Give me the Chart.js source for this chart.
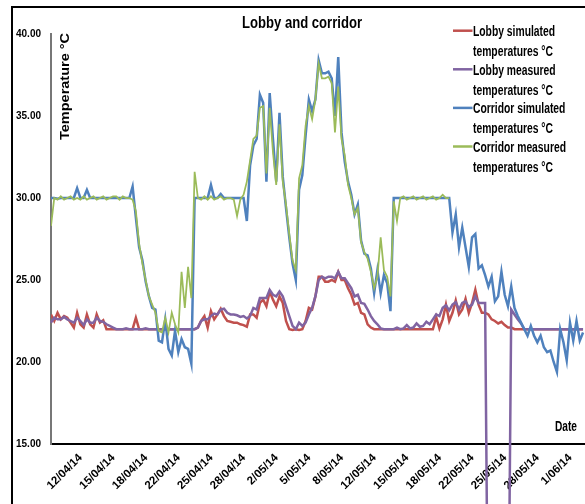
<!DOCTYPE html>
<html>
<head>
<meta charset="utf-8">
<script src="https://cdn.jsdelivr.net/npm/chart.js@4.4.1/dist/chart.umd.min.js"></script>
<style>
  html, body { margin: 0; padding: 0; background: #fff; }
  #wrap { position: relative; width: 585px; height: 504px; overflow: hidden; background: #fff; }
  #frame { position: absolute; left: 11px; top: 6px; width: 700px; height: 700px;
           border: 2px solid #000; box-sizing: border-box; }
  #chart { position: absolute; left: 0; top: 0; }
</style>
</head>
<body>
<div id="wrap">
  <div id="frame"></div>
  <canvas id="chart" width="585" height="504"></canvas>
</div>
<script>
// Temperatures logged three times a day (every 8 hours), from 8/04/14 to 2/06/14.
const chartTitle = 'Lobby and corridor';
const yAxisTitle = 'Temperature °C';
const xAxisTitle = 'Date';

// Date labels shown on the horizontal axis: one every 10 samples, starting at sample 10.
const tickDates = ['12/04/14', '15/04/14', '18/04/14', '22/04/14', '25/04/14', '28/04/14',
  '2/05/14', '5/05/14', '8/05/14', '12/05/14', '15/05/14', '18/05/14', '22/05/14',
  '25/05/14', '28/05/14', '1/06/14'];
const firstLabelledSample = 10;
const samplesPerLabel = 10;

const yTickValues = [15, 20, 25, 30, 35, 40];

const lobbySimulated = [
  22.9, 22.5, 23.0, 22.6, 22.8, 22.7, 22.4, 22.1, 23.0, 22.3,
  22.1, 22.9, 22.3, 22.1, 22.9, 22.4, 22.55, 22.0, 22.0, 22.0,
  22.0, 22.0, 22.0, 22.0, 22.0, 22.0, 22.7, 22.0, 22.0, 22.0,
  22.0, 22.0, 22.0, 22.0, 22.0, 22.0, 22.0, 22.0, 22.0, 22.0,
  22.0, 22.0, 22.0, 22.0, 22.0, 22.1, 22.5, 22.8, 22.1, 23.1,
  22.6, 22.9, 23.25, 22.8, 22.5, 22.45, 22.4, 22.4, 22.3, 22.25,
  22.15, 22.9, 22.9, 22.7, 23.6, 23.8, 23.4, 24.3, 23.8, 23.4,
  24.0, 23.6, 22.5, 22.0, 21.95, 22.0, 21.95, 22.0, 22.5, 23.3,
  23.2, 24.0, 25.2, 25.2, 24.9, 24.9, 25.0, 24.9, 25.5, 25.0,
  25.0, 24.5, 24.1, 23.5, 23.6, 23.0, 22.9, 22.3, 22.1, 22.0,
  22.0, 22.0, 22.0, 22.0, 22.0, 22.0, 22.0, 22.0, 22.0, 22.0,
  22.0, 22.0, 22.0, 22.0, 22.0, 22.0, 22.0, 22.0, 22.75, 22.05,
  22.6, 23.5, 22.5, 23.0, 23.75, 22.9, 23.2, 23.85, 23.0, 23.6,
  24.4, 23.5, 23.0, 23.0, 22.9, 22.6, 22.5, 22.35, 22.45, 22.25,
  22.1, 22.1, 22.0, 22.0, 22.0, 22.0, 22.0, 22.0, 22.0, 22.0,
  22.0, 22.0, 22.0, 22.0, 22.0, 22.0, 22.0, 22.0, 22.0, 22.0,
  22.0, 22.0, 22.0, 22.0
];

// Logger readings of 0 are drop-outs of the lobby logger.
const lobbyMeasured = [
  22.4, 22.7, 22.6, 22.6, 22.75, 22.6, 22.5, 22.4, 22.7, 22.5,
  22.25, 22.6, 22.4, 22.4, 22.7, 22.5, 22.45, 22.3, 22.2, 22.1,
  22.0, 22.0, 22.0, 22.05, 22.0, 22.0, 22.0, 22.0, 22.0, 22.05,
  22.0, 22.0, 22.0, 22.0, 22.0, 22.0, 22.0, 22.0, 22.0, 22.0,
  22.0, 22.0, 22.0, 22.0, 22.0, 22.1, 22.5, 22.6, 22.6, 22.8,
  22.95, 22.9, 23.2, 23.25, 23.0, 22.9, 22.9, 22.85, 22.75, 22.8,
  22.65, 22.8, 23.3, 23.2, 23.9, 23.9, 23.9, 24.4, 24.1, 24.0,
  24.3, 24.0, 23.4, 22.8, 22.2, 22.0, 22.4, 22.2, 22.4, 22.9,
  23.3, 24.0, 25.0, 25.2, 25.1, 25.2, 25.2, 25.1, 25.5, 25.1,
  25.1, 24.8, 24.5, 24.0, 24.1, 23.6, 23.55, 23.2, 22.8, 22.5,
  22.3, 22.05, 22.0, 22.0, 22.0, 22.0, 22.1, 22.0, 22.05, 22.25,
  22.05, 22.1, 22.35, 22.15, 22.2, 22.45, 22.3, 22.6, 22.9, 22.8,
  23.3, 23.45, 23.15, 23.5, 23.65, 23.2, 23.6, 23.7, 23.35, 23.5,
  24.0, 23.6, 23.6, 23.6, 0, 0, 0, 0, 0, 0,
  0, 23.2, 22.9, 22.6, 22.35, 22.0, 22.0, 22.0, 22.0, 22.0,
  22.0, 22.0, 22.0, 22.0, 22.0, 22.0, 22.0, 22.0, 22.0, 22.0,
  22.0, 22.0, 22.0, 22.0
];

const corridorSimulated = [
  30.0, 30.0, 29.95, 30.0, 30.0, 30.0, 30.0, 30.0, 30.6, 30.0,
  30.0, 30.5, 30.0, 30.0, 30.0, 30.0, 30.0, 30.0, 30.0, 30.0,
  30.0, 30.0, 30.0, 30.0, 30.0, 30.7, 28.8, 27.0, 26.2, 24.9,
  24.0, 23.3, 23.2, 21.3, 21.2, 22.6, 20.8, 20.4, 21.9, 20.6,
  21.4, 20.9, 20.8, 19.9, 30.0, 30.0, 30.0, 30.0, 30.0, 30.8,
  30.0, 30.0, 30.25, 30.0, 30.0, 30.0, 30.0, 30.0, 30.0, 30.0,
  28.6, 32.0, 33.2, 33.6, 36.3, 35.8, 31.0, 36.4, 33.6, 31.0,
  35.2, 31.3, 29.4, 27.6, 26.0, 25.0, 30.5, 31.4, 33.8, 36.0,
  35.3, 36.0, 38.4, 37.6, 37.6, 37.7, 37.3, 35.0, 38.6, 34.0,
  32.2, 31.0, 30.2, 29.0, 29.6, 27.4, 26.6, 26.5, 25.7, 24.2,
  25.6, 24.2, 25.3, 24.8, 23.1, 30.0, 30.0, 30.0, 30.0, 30.0,
  30.0, 30.0, 30.0, 30.0, 30.0, 30.0, 30.0, 30.0, 30.0, 30.0,
  30.0, 30.0, 30.0, 27.9, 29.0, 27.0, 28.2, 27.0, 25.8, 27.6,
  27.8, 25.7, 25.9, 25.3, 24.6, 25.2, 23.7, 24.0, 25.5, 24.1,
  23.4, 24.6, 23.3, 22.8, 22.4, 22.0, 21.6, 22.2, 21.6, 21.2,
  21.6, 20.9, 20.6, 20.7, 20.0, 19.4, 22.0, 21.2, 20.1, 22.4,
  21.3, 22.5, 21.3, 21.8
];

// Corridor logger stops after 22/05/14.
const corridorMeasured = [
  28.3, 30.0, 29.9, 30.1, 29.9, 30.0, 30.1, 29.9, 30.0, 29.9,
  30.1, 29.9, 30.0, 30.1, 29.9, 30.0, 30.1, 29.9, 30.0, 30.1,
  30.1, 29.9, 30.1, 30.0, 30.0, 29.9, 29.2, 27.2, 26.0, 25.0,
  24.0, 23.5, 23.0, 21.9, 21.8, 22.7, 21.8, 23.0, 22.3, 21.8,
  25.5, 23.3, 25.8, 23.9, 31.6, 30.0, 29.9, 30.1, 29.9, 30.1,
  29.9, 30.0, 30.1, 29.9, 30.0, 30.0, 29.9, 28.9, 29.9, 30.2,
  31.0, 32.3, 33.6, 33.8, 35.5, 35.6, 31.5, 35.5, 32.8, 30.8,
  34.5, 31.0, 29.6, 27.8, 26.2, 25.6, 31.2, 32.0, 34.4, 35.6,
  34.8, 36.0, 38.2, 37.3, 37.3, 37.4, 37.0, 34.0, 36.8, 33.6,
  32.6, 30.8, 30.0, 29.0, 29.4, 27.3, 26.7, 26.3, 25.5, 24.5,
  25.2, 27.6, 25.6, 25.2, 24.0, 29.8, 28.6, 30.0, 30.1, 29.9,
  30.0, 30.1, 29.9, 30.0, 30.1, 29.9, 30.0, 30.1, 29.9, 30.0,
  30.2, 30.0, 30.0, null, null, null, null, null, null, null,
  null, null, null, null, null, null, null, null, null, null,
  null, null, null, null, null, null, null, null, null, null,
  null, null, null, null, null, null, null, null, null, null,
  null, null, null, null
];

const sampleIndex = corridorSimulated.map((_, i) => i);

const FAMILY = "'Liberation Sans Narrow', 'Liberation Sans', Arial, sans-serif";

function drawFitted(ctx, text, x, y, width, font, align) {
  ctx.font = font;
  const sx = width / ctx.measureText(text).width;
  ctx.save();
  ctx.translate(x, y);
  ctx.scale(sx, 1);
  ctx.textAlign = align;
  ctx.textBaseline = 'alphabetic';
  ctx.fillText(text, 0, 0);
  ctx.restore();
}

// Title, axis titles and the two-line legend at the top right.
const chartText = {
  id: 'chartText',
  afterDraw(chart) {
    const ctx = chart.ctx;
    ctx.save();
    ctx.fillStyle = '#000';
    drawFitted(ctx, chartTitle, 302, 28, 120, 'bold 16px ' + FAMILY, 'center');

    ctx.save();
    ctx.translate(69, 86.5);
    ctx.rotate(-Math.PI / 2);
    drawFitted(ctx, yAxisTitle, 0, 0, 107, 'bold 12px ' + FAMILY, 'center');
    ctx.restore();

    drawFitted(ctx, xAxisTitle, 555, 430.5, 22, 'bold 14px ' + FAMILY, 'left');

    // legend
    const font = 'bold 14px ' + FAMILY;
    ctx.font = font;
    const entries = chart.data.datasets.map(ds => {
      const words = ds.label.split(' ');
      const lines = [];
      for (let i = 0; i < words.length; i += 2) lines.push(words.slice(i, i + 2).join(' '));
      return { lines, color: ds.borderColor };
    });
    let widest = 0;
    entries.forEach(e => e.lines.forEach(l => { widest = Math.max(widest, ctx.measureText(l).width); }));
    const sx = 93 / widest;
    entries.forEach((e, k) => {
      const base = 36 + k * 38.6;
      ctx.strokeStyle = e.color;
      ctx.lineWidth = 2.5;
      ctx.beginPath();
      ctx.moveTo(453, base - 5.3);
      ctx.lineTo(472.5, base - 5.3);
      ctx.stroke();
      e.lines.forEach((line, j) => {
        ctx.save();
        ctx.translate(473, base + j * 20);
        ctx.scale(sx, 1);
        ctx.font = font;
        ctx.textAlign = 'left';
        ctx.fillStyle = '#000';
        ctx.fillText(line, 0, 0);
        ctx.restore();
      });
    });
    ctx.restore();
  }
};

const lineStyle = { pointRadius: 0, pointHoverRadius: 0, tension: 0, fill: false };

new Chart(document.getElementById('chart'), {
  type: 'line',
  data: {
    labels: sampleIndex,
    datasets: [
      { ...lineStyle, label: 'Lobby simulated temperatures °C', data: lobbySimulated,
        borderColor: '#C0504D', borderWidth: 2.5, order: 4 },
      { ...lineStyle, label: 'Lobby measured temperatures °C', data: lobbyMeasured,
        borderColor: '#8064A2', borderWidth: 2.5, order: 3, clip: false },
      { ...lineStyle, label: 'Corridor simulated temperatures °C', data: corridorSimulated,
        borderColor: '#4F81BD', borderWidth: 2.5, order: 2 },
      { ...lineStyle, label: 'Corridor measured temperatures °C', data: corridorMeasured,
        borderColor: '#9BBB59', borderWidth: 1.75, order: 1, spanGaps: false }
    ]
  },
  options: {
    responsive: false,
    animation: false,
    events: [],
    layout: { padding: { top: 34, left: 0, right: 0, bottom: 0 } },
    plugins: { legend: { display: false }, title: { display: false }, tooltip: { enabled: false } },
    scales: {
      x: {
        type: 'linear',
        min: 0,
        max: 163.6,
        grid: { display: false, drawTicks: false },
        border: { display: true, color: '#000', width: 2 },
        afterBuildTicks(scale) {
          scale.ticks = tickDates.map((_, k) => ({ value: firstLabelledSample + k * samplesPerLabel }));
        },
        afterFit(scale) {
          scale.height = 60;
          scale.paddingLeft = 0;
          scale.paddingRight = 0;
        },
        ticks: {
          autoSkip: false,
          minRotation: 45,
          maxRotation: 45,
          padding: 7,
          labelOffset: -3,
          color: '#000',
          font: { family: FAMILY, size: 11.5, weight: 'bold' },
          callback: (value, index) => tickDates[index]
        }
      },
      y: {
        min: 15,
        max: 40,
        grid: { display: false, drawTicks: false },
        border: { display: true, color: '#777', width: 2 },
        afterBuildTicks(scale) {
          scale.ticks = yTickValues.map(v => ({ value: v }));
        },
        afterFit(scale) {
          scale.width = 51;
          scale.paddingTop = 0;
          scale.paddingBottom = 0;
        },
        ticks: {
          padding: 10,
          color: '#000',
          font: { family: "'Liberation Sans', Arial, sans-serif", size: 10, weight: 'bold' },
          callback: v => v.toFixed(2)
        }
      }
    }
  },
  plugins: [chartText]
});
</script>
</body>
</html>
